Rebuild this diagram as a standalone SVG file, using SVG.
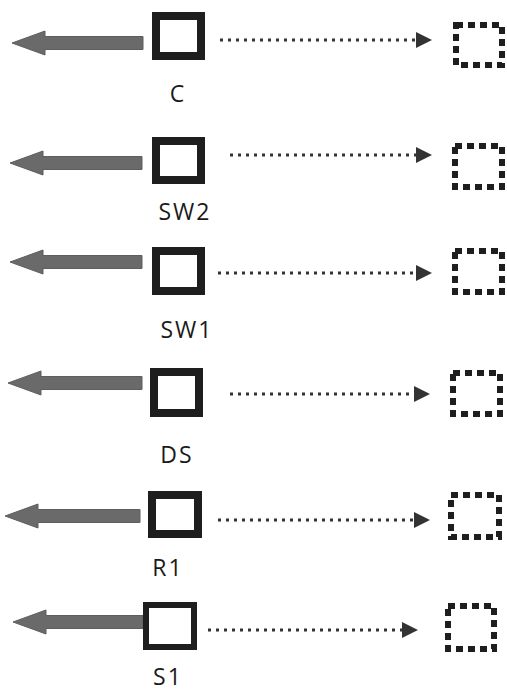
<svg xmlns="http://www.w3.org/2000/svg" width="507" height="692" viewBox="0 0 507 692">
<style>
.bg{fill:#ffffff}
.big{fill:#6a6a6a;stroke:#5e5e5e;stroke-width:1}
.box{fill:#ffffff;stroke:#1e1e1e;stroke-width:8}
.box.thin{stroke-width:6}
.dash{fill:none;stroke:#1e1e1e;stroke-width:6;stroke-dasharray:7 5}
.dot{fill:none;stroke:#333333;stroke-width:3;stroke-dasharray:3 5}
.lbl{font-family:"Open Sans","Noto Sans",sans-serif;font-size:23px;fill:#1a1a1a;text-anchor:middle;letter-spacing:2px}
</style>
<defs>
<marker id="ah" markerUnits="userSpaceOnUse" markerWidth="16" markerHeight="16" viewBox="0 0 16 16" refX="0" refY="8" orient="auto">
<path d="M0,0 L16,8 L0,16 z" fill="#333333"/>
</marker>
</defs>
<rect class="bg" x="0" y="0" width="507" height="692"/>
<g id="connectors">
<polygon class="big" points="12,43 45,31 45,36.5 143,36.5 143,49.5 45,49.5 45,55"/>
<polygon class="big" points="10,163 43,151 43,156.5 142,156.5 142,169.5 43,169.5 43,175"/>
<polygon class="big" points="10,262 43,250 43,255.5 142,255.5 142,268.5 43,268.5 43,274"/>
<polygon class="big" points="8,383 41,371 41,376.5 142,376.5 142,389.5 41,389.5 41,395"/>
<polygon class="big" points="5,516 38,504 38,509.5 140,509.5 140,522.5 38,522.5 38,528"/>
<polygon class="big" points="13,622 46,610 46,615.5 143,615.5 143,628.5 46,628.5 46,634"/>
<line class="dot" x1="220" y1="40" x2="416" y2="40" marker-end="url(#ah)"/>
<line class="dot" x1="230" y1="155" x2="416" y2="155" marker-end="url(#ah)"/>
<line class="dot" x1="218" y1="273" x2="416" y2="273" marker-end="url(#ah)"/>
<line class="dot" x1="230" y1="394" x2="414" y2="394" marker-end="url(#ah)"/>
<line class="dot" x1="218" y1="520" x2="414" y2="520" marker-end="url(#ah)"/>
<line class="dot" x1="208" y1="630" x2="402" y2="630" marker-end="url(#ah)"/>
</g>
<g id="C">
<rect class="box" x="156" y="16" width="45" height="40"/>
<text class="lbl" x="178" y="102">C</text>
</g>
<g id="C-target"><rect class="dash" x="456" y="25" width="46" height="40"/></g>
<g id="SW2">
<rect class="box" x="156" y="141" width="45" height="39"/>
<text class="lbl" x="185" y="220">SW2</text>
</g>
<g id="SW2-target"><rect class="dash" x="455" y="146" width="47" height="41"/></g>
<g id="SW1">
<rect class="box" x="156" y="251" width="45" height="40"/>
<text class="lbl" x="187" y="338">SW1</text>
</g>
<g id="SW1-target"><rect class="dash" x="455" y="251" width="47" height="41"/></g>
<g id="DS">
<rect class="box" x="154" y="372" width="45" height="41"/>
<text class="lbl" x="177" y="463">DS</text>
</g>
<g id="DS-target"><rect class="dash" x="453" y="373" width="47" height="41"/></g>
<g id="R1">
<rect class="box" x="152" y="495" width="46" height="39"/>
<text class="lbl" x="168" y="576">R1</text>
</g>
<g id="R1-target"><rect class="dash" x="451" y="495" width="48" height="42"/></g>
<g id="S1">
<rect class="box thin" x="146" y="605" width="48" height="42"/>
<text class="lbl" x="168" y="685">S1</text>
</g>
<g id="S1-target"><rect class="dash" x="448" y="606" width="46" height="43"/></g>
</svg>
